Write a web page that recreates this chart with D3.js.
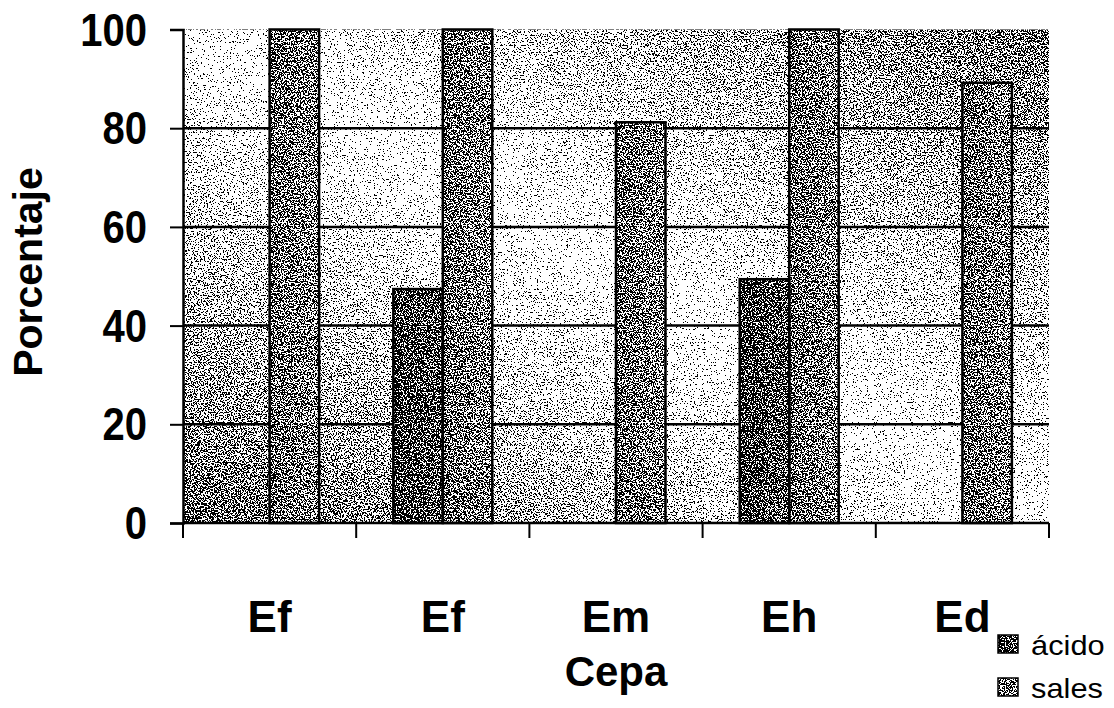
<!DOCTYPE html>
<html>
<head>
<meta charset="utf-8">
<script src="https://cdn.jsdelivr.net/npm/d3@7"></script>
<style>
  body { margin: 0; background: #fff; }
  svg { display: block; }
  text { font-family: "Liberation Sans", Arial, sans-serif; fill: #000; }
</style>
</head>
<body>
<svg id="chart"></svg>
<script>
// Data
const categories = ['Ef', 'Ef ', 'Em', 'Eh', 'Ed'];
const categoryLabels = ['Ef', 'Ef', 'Em', 'Eh', 'Ed'];
const seriesNames = ['ácido', 'sales'];
const acidoValues = [0, 47.4, 0, 49.4, 0];
const salesValues = [100, 100, 81.2, 100, 89.2];
const yTicks = [0, 20, 40, 60, 80, 100];

const width = 1114, height = 708;
const margin = { top: 29.5, right: 65, bottom: 185, left: 183 };
const innerW = width - margin.left - margin.right;
const innerH = height - margin.top - margin.bottom;

const svg = d3.select('#chart').attr('width', width).attr('height', height);
const defs = svg.append('defs');

// stipple / dither filter (noise added then thresholded)
const filter = defs.append('filter')
  .attr('id', 'dither')
  .attr('x', 0).attr('y', 0).attr('width', 1).attr('height', 1)
  .attr('color-interpolation-filters', 'sRGB');
filter.append('feTurbulence')
  .attr('type', 'fractalNoise').attr('baseFrequency', 0.7)
  .attr('numOctaves', 2).attr('seed', 7).attr('result', 'noise');
filter.append('feColorMatrix')
  .attr('in', 'noise').attr('type', 'matrix')
  .attr('values', '1 0 0 0 0  1 0 0 0 0  1 0 0 0 0  0 0 0 0 1')
  .attr('result', 'grey');
filter.append('feComposite')
  .attr('in', 'SourceGraphic').attr('in2', 'grey')
  .attr('operator', 'arithmetic')
  .attr('k1', 0).attr('k2', 1).attr('k3', 2.4).attr('k4', -1.2)
  .attr('result', 'sum');
const ct = filter.append('feComponentTransfer').attr('in', 'sum').attr('result', 'thr');
['feFuncR', 'feFuncG', 'feFuncB'].forEach(f => ct.append(f).attr('type', 'discrete').attr('tableValues', '0 1'));
filter.append('feComposite')
  .attr('in', 'thr').attr('in2', 'SourceAlpha').attr('operator', 'in');

// background gradient: dark bottom-left and top-right, light diagonal band
const bgGrad = defs.append('linearGradient')
  .attr('id', 'bgGrad').attr('x1', 0).attr('y1', 1).attr('x2', 1).attr('y2', 0);
bgGrad.append('stop').attr('offset', 0).attr('stop-color', '#6c6c6c');
bgGrad.append('stop').attr('offset', 0.5).attr('stop-color', '#ececec');
bgGrad.append('stop').attr('offset', 1).attr('stop-color', '#747474');

const barColors = { 'ácido': ['#505050', '#6a6a6a'], 'sales': ['#707070', '#868686'] };
seriesNames.forEach((s, i) => {
  const g = defs.append('linearGradient').attr('id', 'barGrad' + i)
    .attr('x1', 0).attr('y1', 0).attr('x2', 1).attr('y2', 0);
  g.append('stop').attr('offset', 0).attr('stop-color', barColors[s][0]);
  g.append('stop').attr('offset', 1).attr('stop-color', barColors[s][1]);
});

const chart = svg.append('g')
  .attr('transform', `translate(${margin.left},${margin.top})`);

// scales
const x0 = d3.scaleBand().domain(categories).range([0, innerW]).padding(0);
const x1 = d3.scaleBand().domain(seriesNames).range([0, x0.bandwidth()])
  .paddingInner(0).paddingOuter(0.75);
const y = d3.scaleLinear().domain([0, 100]).range([innerH, 0]);

// background
chart.append('rect')
  .attr('width', innerW).attr('height', innerH)
  .attr('fill', 'url(#bgGrad)')
  .attr('filter', 'url(#dither)');

// gridlines
chart.append('g').selectAll('line')
  .data(yTicks.filter(d => d > 0 && d < 100))
  .join('line')
  .attr('x1', 0).attr('x2', innerW)
  .attr('y1', d => y(d)).attr('y2', d => y(d))
  .attr('stroke', '#000').attr('stroke-width', 2.5);

// bars
const table = categories.map((c, i) => ({ cat: c, 'ácido': acidoValues[i], 'sales': salesValues[i] }));
const groups = chart.append('g').selectAll('g')
  .data(table)
  .join('g')
  .attr('transform', d => `translate(${x0(d.cat)},0)`);

const barData = d => seriesNames.map((s, i) => ({ key: s, idx: i, value: d[s] })).filter(b => b.value > 0);

groups.selectAll('rect.fill')
  .data(barData)
  .join('rect')
  .attr('class', 'fill')
  .attr('x', d => x1(d.key))
  .attr('y', d => y(d.value))
  .attr('width', x1.bandwidth())
  .attr('height', d => y(0) - y(d.value))
  .attr('fill', d => `url(#barGrad${d.idx})`)
  .attr('filter', 'url(#dither)');

groups.selectAll('rect.outline')
  .data(barData)
  .join('rect')
  .attr('class', 'outline')
  .attr('x', d => x1(d.key))
  .attr('y', d => y(d.value))
  .attr('width', x1.bandwidth())
  .attr('height', d => y(0) - y(d.value))
  .attr('fill', 'none')
  .attr('stroke', '#000').attr('stroke-width', 2.5);

// y axis
const yAxisG = chart.append('g')
  .call(d3.axisLeft(y).tickValues(yTicks).tickSize(13).tickPadding(23));
yAxisG.select('.domain').attr('stroke', '#000').attr('stroke-width', 2.5);
yAxisG.selectAll('.tick line').attr('stroke', '#000').attr('stroke-width', 2);
yAxisG.selectAll('.tick text')
  .attr('font-size', 40).attr('font-weight', 'bold')
  .attr('font-family', '"Liberation Sans", Arial, sans-serif')
  .attr('dy', '0.34em')
  .attr('transform', 'scale(1,1.15)');

// x axis: ticks at band boundaries
const xAxisG = chart.append('g').attr('transform', `translate(0,${innerH})`);
xAxisG.append('line')
  .attr('x1', 0).attr('x2', innerW)
  .attr('stroke', '#000').attr('stroke-width', 2.5);
xAxisG.selectAll('line.tick')
  .data(categories.map(c => x0(c)).concat([innerW]))
  .join('line')
  .attr('class', 'tick')
  .attr('x1', d => d).attr('x2', d => d)
  .attr('y1', 0).attr('y2', 15)
  .attr('stroke', '#000').attr('stroke-width', 2);
xAxisG.selectAll('text')
  .data(categories)
  .join('text')
  .attr('x', d => x0(d) + x0.bandwidth() / 2)
  .attr('y', 109)
  .attr('text-anchor', 'middle')
  .attr('font-size', 44).attr('font-weight', 'bold')
  .text((d, i) => categoryLabels[i]);

// axis titles
svg.append('text')
  .attr('x', margin.left + innerW / 2)
  .attr('y', 686)
  .attr('text-anchor', 'middle')
  .attr('font-size', 42).attr('font-weight', 'bold')
  .text('Cepa');

svg.append('text')
  .attr('transform', 'translate(42,272) rotate(-90)')
  .attr('text-anchor', 'middle')
  .attr('font-size', 41).attr('font-weight', 'bold')
  .text('Porcentaje');

// legend
const legend = svg.append('g').attr('transform', 'translate(998,635)');
seriesNames.forEach((s, i) => {
  const row = legend.append('g').attr('transform', `translate(0,${i * 43})`);
  row.append('rect')
    .attr('width', 20).attr('height', 18)
    .attr('fill', `url(#barGrad${i})`)
    .attr('filter', 'url(#dither)');
  row.append('rect')
    .attr('width', 20).attr('height', 18)
    .attr('fill', 'none').attr('stroke', '#000').attr('stroke-width', 1.5);
  row.append('text')
    .attr('x', 29).attr('y', 20)
    .attr('font-size', 27)
    .attr('transform', 'scale(1.14,1)')
    .text(s);
});
</script>
</body>
</html>
